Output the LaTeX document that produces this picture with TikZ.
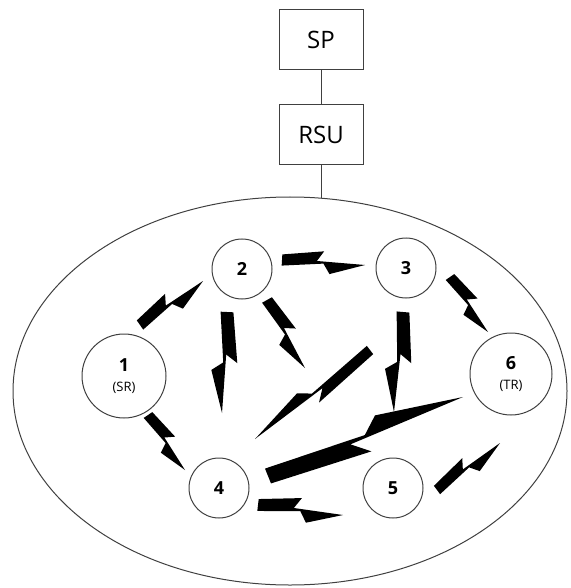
\documentclass[tikz,border=0pt]{standalone}
\usepackage{fontspec}
\setmainfont{Open Sans}
\usetikzlibrary{calc}

\newcommand{\roletag}[1]{{\mdseries\fontsize{6.5}{6.5}\selectfont#1}}

\tikzset{
    wire/.style={draw=black!75, line width=0.5pt},
    box/.style={wire, minimum width=42pt, minimum height=30pt, font=\fontsize{12}{14}\selectfont},
    car/.style={wire, circle, inner sep=0pt, minimum size=30pt, align=center, font=\bfseries\fontsize{9}{9}\selectfont},
    % zigzag radio link, thick end at the start, sharp tip at the end
    bolt/.style={fill=black, to path={
        let \p1=(\tikztostart), \p2=(\tikztotarget),
            \n1={atan2(\y2-\y1,\x2-\x1)}, \n2={veclen(\x2-\x1,\y2-\y1)} in
        ($(\p1)+({\n1+90}:#1)$)
        -- ($(\p1)+(\n1:{0.50*\n2})+({\n1+90}:{2.0*#1})$)
        -- ($(\p1)+(\n1:{0.42*\n2})+({\n1+90}:{0.2*#1})$)
        -- (\p2)
        -- ($(\p1)+(\n1:{0.58*\n2})+({\n1-90}:{2.0*#1})$)
        -- ($(\p1)+(\n1:{0.50*\n2})+({\n1-90}:{0.2*#1})$)
        -- ($(\p1)+({\n1-90}:#1)$) -- cycle}},
}

\begin{document}
\begin{tikzpicture}[x=0.5pt,y=-0.5pt]
    \useasboundingbox (0,0) rectangle (570,588);

    \node [box] (SP) at (321,40) {SP};
    \node [box] (RSU) at (321,135) {RSU};
    \draw [wire] (SP) -- (RSU);

    % vehicle network
    \coordinate (net) at (290,391);
    \coordinate (nettop) at (321,198);
    \draw [wire] (net) ellipse [x radius=277, y radius=194];
    \draw [wire] (RSU) -- (nettop);

    \node [car, minimum size=42pt] (n1) at (124,376) {1\\[1pt]\roletag{(SR)}};
    \node [car] (n2) at (242,269) {2};
    \node [car] (n3) at (406,268) {3};
    \node [car] (n4) at (219,488) {4};
    \node [car] (n5) at (393,488) {5};
    \node [car, minimum size=41pt] (n6) at (511,374) {6\\[1pt]\roletag{(TR)}};

    % link ends
    \coordinate (l12s) at (140,325);  \coordinate (l12e) at (203,281);
    \coordinate (l23s) at (282,260);  \coordinate (l23e) at (365,265);
    \coordinate (l2as) at (227,312);  \coordinate (l2ae) at (222,413);
    \coordinate (l2bs) at (267,300);  \coordinate (l2be) at (305,368);
    \coordinate (lmids) at (370,350); \coordinate (lmide) at (255,439);
    \coordinate (l3as) at (403,312);  \coordinate (l3ae) at (394,412);
    \coordinate (l36s) at (450,277);  \coordinate (l36e) at (488,332);
    \coordinate (l14s) at (148,415);  \coordinate (l14e) at (185,470);
    \coordinate (l46s) at (268,476);  \coordinate (l46e) at (463,397);
    \coordinate (l45s) at (258,505);  \coordinate (l45e) at (343,515);
    \coordinate (l5s) at (437,490);   \coordinate (l5e) at (500,443);

    \fill [bolt=2.8pt] (l12s) to (l12e);
    \fill [bolt=2.8pt] (l23s) to (l23e);
    \fill [bolt=3.2pt] (l2as) to (l2ae);
    \fill [bolt=2.8pt] (l2bs) to (l2be);
    \fill [bolt=2.6pt] (lmids) to (lmide);
    \fill [bolt=3.2pt] (l3as) to (l3ae);
    \fill [bolt=2.6pt] (l36s) to (l36e);
    \fill [bolt=2.6pt] (l14s) to (l14e);
    \fill [bolt=-4pt] (l46s) to (l46e);
    \fill [bolt=3pt] (l45s) to (l45e);
    \fill [bolt=2.6pt] (l5s) to (l5e);
\end{tikzpicture}
\end{document}
